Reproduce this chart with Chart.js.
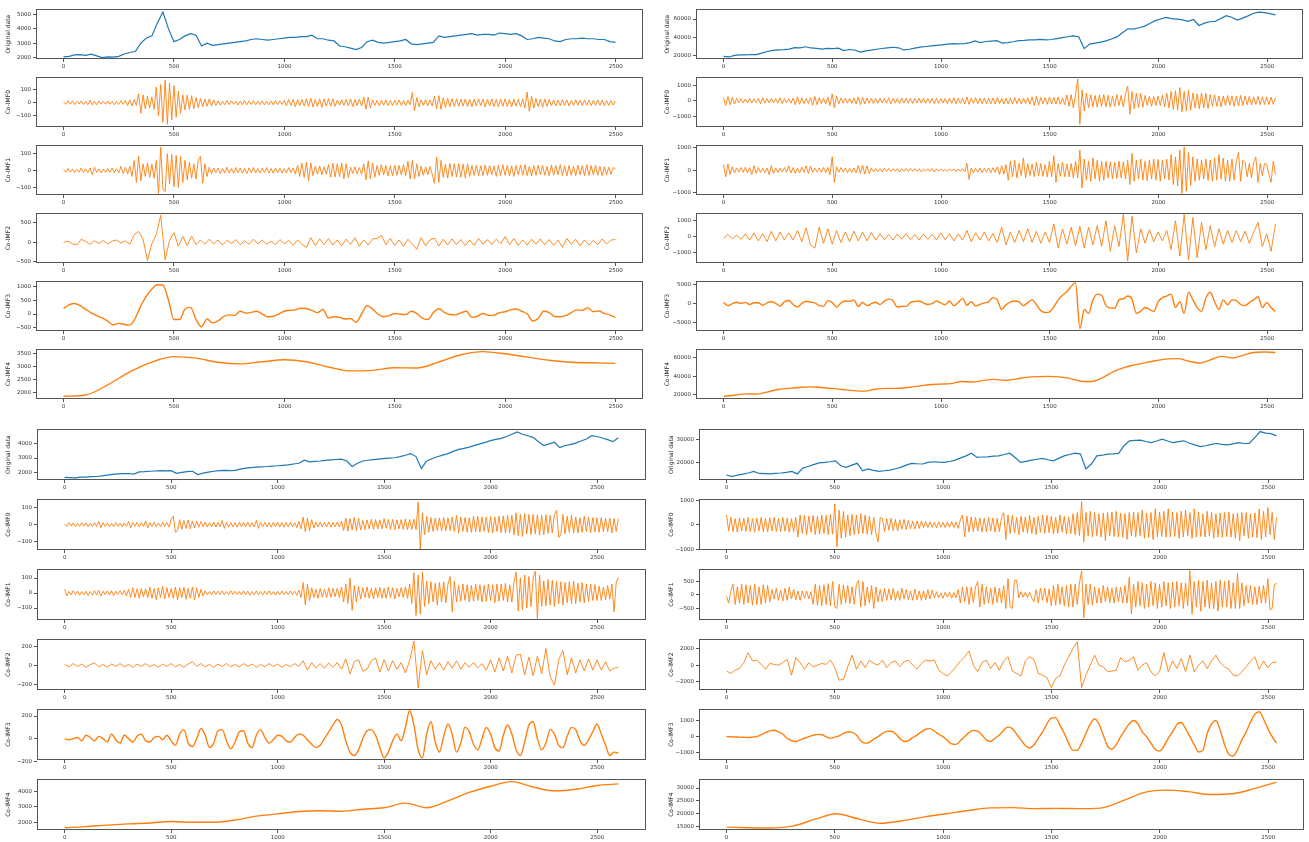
<!DOCTYPE html>
<html>
<head>
<meta charset="utf-8">
<script src="https://cdn.jsdelivr.net/npm/chart.js@4.4.0/dist/chart.umd.min.js"></script>
<style>
  html, body { margin: 0; padding: 0; background: #fff; }
  #fig { position: relative; width: 1309px; height: 842px; overflow: hidden; }
  #fig canvas { position: absolute; }
</style>
</head>
<body>
<div id="fig"></div>
<script>
const xTicks = [0, 500, 1000, 1500, 2000, 2500];
const rowLabels = ["Original data", "Co-IMF0", "Co-IMF1", "Co-IMF2", "Co-IMF3", "Co-IMF4"];

// ---- top-left block, 2500 samples ----
const aLength = 2500;
const aOriginal = [
  2050,2080,2180,2200, 2150,2230,2120,2000, 2050,2030,2080,2250, 2350,2420,3000,3350,
  3500,4400,5150,4000, 3100,3250,3500,3650, 3550,2800,3000,2850, 2900,2950,3000,3050,
  3100,3150,3250,3300, 3250,3200,3250,3300, 3350,3400,3400,3450, 3450,3550,3300,3300,
  3200,3150,2800,2750, 2650,2550,2700,3100, 3200,3050,3000,3050, 3100,3150,3250,2950,
  2900,2950,3000,3050, 3500,3400,3450,3500, 3550,3600,3650,3550, 3600,3600,3550,3700,
  3650,3600,3650,3500, 3250,3300,3400,3350, 3300,3150,3100,3250, 3300,3300,3350,3300,
  3300,3250,3250,3100, 3050
];
const aImf0 = [
  5,-12,15,-10,16,-14,12,-9,15,-13,
  10,-14,20,-16,12,-15,14,-10,13,-12,
  14,-11,12,-15,10,-13,15,-12,18,-20,
  22,-25,28,-20,70,-80,60,-45,50,-40,
  45,-50,120,-100,140,-150,175,-165,150,-130,
  130,-110,90,-80,60,-55,58,-50,55,-45,
  40,-35,32,-30,28,-26,30,-25,22,-20,
  15,-18,12,-15,18,-14,16,-12,14,-17,
  12,-15,18,-16,14,-13,16,-15,12,-14,
  15,-17,13,-15,14,-16,18,-14,15,-13,
  20,-22,25,-20,28,-30,24,-22,26,-25,
  30,-28,35,-32,25,-28,30,-35,28,-25,
  32,-25,30,-28,20,-18,22,-20,25,-22,
  30,-28,25,-22,28,-25,45,-48,42,-40,
  22,-20,18,-22,20,-18,22,-20,18,-21,
  20,-18,22,-20,18,-22,20,-15,78,-60,
  40,-30,22,-20,25,-22,20,-24,50,-45,
  55,-50,40,-35,35,-30,32,-28,30,-26,
  28,-25,30,-28,25,-30,28,-25,30,-22,
  28,-32,26,-24,30,-28,25,-30,28,-26,
  30,-28,25,-30,28,-25,26,-30,28,-40,
  82,-65,50,-40,32,-30,28,-35,30,-28,
  25,-22,22,-25,20,-22,24,-20,22,-25,
  18,-20,22,-18,20,-22,21,-19,20,-22,
  18,-20,22,-18,20,-22,18,-20,16,-18,
  15
];
const aImf1 = [
  5,-10,12,-8,10,-12,8,-10,15,-12,
  10,-12,15,-25,20,-12,10,-14,8,-10,
  12,-10,15,-12,10,-14,25,-18,20,-20,
  25,-35,60,-70,85,-60,40,-35,45,-40,
  38,-45,60,-135,140,-110,-125,100,-80,95,
  -95,90,-100,85,-70,60,-55,50,-45,40,
  -50,60,85,-75,40,-35,20,-18,15,-12,
  15,-18,12,-15,20,-14,12,-16,18,-12,
  15,-14,12,-18,15,-12,18,-15,12,-14,
  15,-12,18,-14,12,-16,15,-12,14,-15,
  12,-14,18,-12,15,-20,30,-35,45,-40,
  50,-60,45,-30,25,-22,28,-25,22,-20,
  35,-40,42,-38,40,-35,45,-48,40,-42,
  20,-18,22,-20,18,-22,40,-55,58,-50,
  45,-40,30,-28,35,-25,30,-32,28,-30,
  32,-28,30,-25,35,-30,55,-50,60,-50,
  40,-35,25,-28,22,-25,24,-22,-75,80,
  -70,60,-40,38,-45,42,-35,40,-38,42,
  -40,38,-45,40,-35,30,-28,32,-30,28,
  -30,32,-28,30,-25,28,-35,32,-30,35,
  -28,30,-32,28,-35,30,-25,32,-28,35,
  -30,25,-32,30,-28,32,-25,30,-28,25,
  -30,32,-28,30,-25,35,-30,28,-32,30,
  -28,25,-30,32,-25,28,-30,35,-28,30,
  -25,30,-28,25,-30,22,-25,20,-22,18,
  10
];
const aImf2 = [
  0,30,-40,-70,80,20,-50,40,-30,50,-40,30,60,-20,40,
  -50,200,280,80,-470,-30,200,700,-450,50,250,-100,150,-80,160,-60,
  60,-50,80,-40,60,-70,50,-30,70,-60,40,-50,80,-40,60,-50,30,-60,70,-40,50,-80,60,-50,
  -130,120,-80,90,-60,100,
  -70,60,-90,80,-50,120,-100,60,-70,90,
  100,180,-60,100,-80,60,-100,80,-40,-180,120,-90,60,110,-100,80,
  -70,90,-60,70,-90,60,-80,100,-50,70,-60,80,-40,
  150,-60,100,-80,
  60,-70,80,-50,90,-60,70,-80,60,-130,100,-50,80,-90,60,-70,50,-60,90,-40,60,70
];
const aImf3 = [
  200,330,380,300, 170,40,-60,-140, -260,-390,-340,-380, -400,-150,300,650,
  900,1060,1050,500, -200,-200,180,240, -200,-460,-180,-320, -250,-90,-30,-50,
  100,30,60,100, 0,-100,-80,0, 100,130,150,210, 200,130,50,170,
  -150,-100,-120,-180, -160,-300,0,300, 180,-10,-100,-60, 20,-10,-20,100,
  20,-150,-200,50, 190,60,-20,-30, 40,100,-120,-80, 20,-50,-40,50,
  80,150,180,100, 10,-250,-160,100, 50,-90,-100,-60, 50,150,130,220,
  80,110,20,-30, -125
];
const aImf4 = [
  1860,1910,2300,2800,3180,3390,3330,3170,3110,3190,3270,3190,2990,
  2840,2860,2960,2950,3180,3460,3580,3500,3370,3250,3170,3150,3130
];
const aTicks = [[2000,3000,4000,5000], [-100,0,100], [-100,0,100], [-500,0,500], [-500,0,500,1000], [2000,2500,3000,3500]];
const aRanges = [[1900,5340], [-185,195], [-145,150], [-533,748], [-614,1182], [1756,3671]];

// ---- top-right block, 2539 samples ----
const bLength = 2539;
const bOriginal = [
  18900,18300,20000,20500, 20700,21000,20800,22500, 24300,25500,26000,26300,
  27000,28500,28400,29500, 28200,27800,27000,27800, 27500,28000,25300,26500,
  26000,23600,25000,25800, 26800,27600,28400,29000, 28400,26000,26800,28000,
  29100,29800,30400,31000, 31500,32500,32900,32600, 32900,33800,36000,34000,
  35300,35800,36300,33500, 34000,35000,36300,36500, 37000,37200,37700,37000,
  37500,38500,39500,40500, 41500,40500,27500,32500, 33500,34600,36000,38000,
  40400,45000,49300,49000, 50400,52000,55000,58200, 60000,61800,60500,60000,
  59000,57500,59500,52900, 55500,57000,57500,60500, 63600,62000,58900,61000,
  63500,66400,67500,67100, 66000,64600
];
const bImf0 = [
  200,-300,280,-250,220,-200,150,-120,130,-140,
  120,-130,150,-140,130,-120,160,-200,200,-150,
  140,-130,150,-120,130,-140,200,-180,150,-130,
  140,-150,180,-250,250,-220,200,-180,150,-160,
  200,-280,280,-250,200,-180,160,-200,250,-300,
  450,-450,300,-200,180,-150,160,-140,150,-160,
  180,-200,250,-250,220,-200,180,-150,160,-170,
  150,-160,170,-140,160,-150,200,-180,160,-150,
  150,-170,180,-140,160,-150,170,-160,150,-140,
  160,-150,170,-160,150,-140,160,-180,170,-150,
  150,-140,160,-180,170,-150,200,-180,170,-160,
  160,-200,250,-220,180,-160,200,-180,170,-190,
  180,-200,170,-190,180,-200,220,-180,160,-200,
  170,-190,180,-200,220,-180,160,-200,180,-170,
  200,-220,250,-300,300,-280,220,-200,200,-220,
  250,-200,220,-200,250,-220,200,-250,380,-350,
  400,-450,400,1400,-1500,700,-650,500,-450,400,
  -380,350,-400,380,-350,400,-380,350,-400,300,
  -350,400,-300,350,-400,450,950,-850,600,-500,
  500,-450,480,-400,350,-300,300,-350,280,-300,
  320,-300,350,-400,500,-450,600,-550,650,-600,
  850,-700,600,-650,700,-600,500,-450,450,-500,
  500,-450,480,-500,400,-350,380,-350,300,-380,
  320,-300,350,-280,320,-350,300,-320,350,-300,
  300,-250,280,-260,250,-230,270,-250,260,-240,
  250,-230,240,-220,200
];
const bImf1 = [
  250,-300,280,-200,150,-120,100,-90,120,-100,
  130,-120,110,-200,200,-150,120,-100,90,-110,
  100,-200,200,-150,90,-110,100,-80,120,-100,
  200,-130,120,-150,100,-120,130,-100,200,-150,
  180,-100,90,-80,100,-90,120,-110,120,-200,
  600,-550,150,-100,120,-90,100,-110,90,-100,
  100,-120,200,-150,220,-180,200,-150,90,-70,
  80,-60,70,-80,90,-60,80,-70,60,-50,
  70,-80,60,-50,70,-60,80,-50,70,-60,
  60,-70,50,-40,60,-50,70,-80,60,-50,
  60,-50,40,-60,50,-40,60,-70,50,-60,
  70,-80,300,-420,100,-120,80,-90,100,-120,
  80,-90,100,-120,110,-100,150,-200,200,-180,
  250,-450,400,-300,450,-350,300,-250,550,-350,
  300,-250,280,-300,350,-250,300,-280,250,-300,
  400,-300,650,-550,300,-280,350,-300,280,-300,
  300,-350,400,-350,900,-800,500,-450,400,-500,
  550,-400,450,-500,400,-450,400,-350,380,-400,
  350,-380,400,-350,380,-400,450,-650,750,-500,
  450,-400,500,-450,400,-480,450,-400,500,-450,
  480,-500,450,-400,500,-450,700,-650,600,-700,
  900,-1050,1050,-950,800,-700,600,-500,500,-450,
  450,-400,500,-450,450,-500,550,-450,700,-400,
  550,-500,450,-500,500,-450,400,800,-500,450,
  350,-300,300,-350,350,600,-550,300,-250,300,
  250,-200,-550,400,-200
];
const bImf2 = [
  -100,150,-120,100,-150,180,-200,250,
  -250,200,-300,350,-250,300,-200,250,
  -200,400,-300,550,-500,-700,600,-400,
  500,-450,400,-350,300,-300,350,-250,
  300,-250,280,-200,200,-180,150,-200,
  180,-150,200,-180,150,-200,180,-150,
  150,-200,250,-180,200,-250,180,-200,
  400,-300,250,-200,300,-250,200,-350,
  600,-500,300,-350,400,-300,500,-350,
  350,-400,300,-350,800,-700,500,-450,
  600,-550,650,-700,600,-500,700,-600,
  1000,-900,700,-600,1400,-1500,1300,-1000,
  500,-400,450,-300,300,-250,400,-800,
  1000,-1200,1400,-1450,1200,-1300,900,-800,
  700,-600,500,-450,400,-350,400,-300,
  350,-400,300,900,-600,200,-900,800
];
const bImf3 = [
  300,-500,0,400,100,350,-200,250,
  250,-400,200,500,100,-600,500,850,
  -200,-850,100,650,400,200,-500,-700,
  800,300,-900,200,700,600,1000,-700,
  300,-500,0,400,-200,700,1200,800,
  -900,-700,-700,300,600,700,200,-200,
  0,700,200,-300,700,-500,300,1400,
  -400,500,-600,-200,200,500,1600,1000,
  -1500,-300,500,700,500,-500,300,1000,
  -300,-1800,-2300,-2200,-800,1000,2200,3200,
  4500,5500,-6500,-1500,-2500,1000,2500,2200,
  -500,-1100,-1200,1000,1300,2000,1200,-2500,
  -2000,-1000,-1500,-2000,500,1600,2000,2500,
  -1000,500,-2500,3000,1000,-1000,-2000,1500,
  3000,500,-1500,1000,-300,1000,800,-200,
  -500,300,1000,1800,-1000,300,-1000,-2000
];
const bImf4 = [
  18300,19500,21100,20800,23000,25800,27000,28000,28700,28000,27000,25800,24600,
  24000,26000,27000,27000,28000,29500,31000,31600,32200,34500,34000,35700,36800,
  35800,37000,39000,39800,40000,39500,37800,34800,34500,38500,45000,49500,52500,
  55000,57200,59000,59300,56500,54500,58000,61700,60000,62800,66000,66500,66000
];
const bTicks = [[20000,40000,60000], [-1000,0,1000], [-1000,0,1000], [-1000,0,1000], [-5000,0,5000], [20000,40000,60000]];
const bRanges = [[16070,70700], [-1675,1509], [-1120,1120], [-1626,1465], [-7120,5850], [15500,69400]];

// ---- bottom-left block, 2600 samples ----
const cLength = 2600;
const cOriginal = [
  1700,1680,1660,1720, 1720,1750,1760,1800, 1850,1900,1935,1950, 1960,1920,2065,2080,
  2110,2130,2150,2140, 2150,1970,2040,2080, 2110,1890,1980,2050, 2110,2150,2170,2160,
  2170,2250,2325,2360, 2390,2410,2430,2460, 2480,2510,2540,2600, 2650,2850,2740,2780,
  2800,2840,2870,2900, 2930,2800,2430,2650, 2800,2850,2890,2930, 2975,3000,3020,3100,
  3190,3300,3100,2300, 2800,2950,3085,3200, 3300,3450,3580,3650, 3735,3850,3950,4050,
  4170,4250,4320,4450, 4600,4750,4600,4500, 4390,4100,3845,3950, 4060,3700,3845,3900,
  4000,4150,4280,4500, 4450,4350,4235,4100, 4365
];
const cImf0 = [
  5,-10,12,-8,10,-12,8,-10,12,-9,
  10,-12,8,-10,12,-11,20,-18,12,-10,
  10,-12,8,-11,12,-10,9,-12,10,-11,
  20,-18,12,-10,14,-12,12,-10,22,-20,
  12,-10,14,-12,10,-12,14,-11,12,-15,
  30,50,-45,-35,30,-28,25,-22,28,-25,
  22,-20,20,-15,18,-12,15,-14,12,-13,
  15,-14,14,-12,25,-22,15,-14,12,-13,
  12,-15,14,-12,13,-12,15,-13,12,-14,
  25,-22,15,-12,14,-13,12,-15,14,-12,
  15,-14,12,-15,13,-12,15,-14,12,-18,
  20,-25,45,-42,40,-35,30,-20,15,-14,
  15,-12,14,-13,16,-15,13,-12,15,-14,
  20,-35,40,-38,35,-30,42,-35,38,-32,
  25,-30,28,-25,32,-28,30,-26,28,-25,
  35,-22,30,-28,32,-30,28,-25,30,-28,
  35,-30,30,-28,32,-30,135,-145,70,-60,
  50,-45,42,-40,38,-35,40,-38,42,-36,
  40,-35,45,-40,55,-50,45,-40,42,-45,
  40,-45,50,-42,48,-44,45,-40,46,-48,
  48,-50,45,-40,50,-48,52,-50,55,-48,
  55,-60,70,-65,60,-70,65,-55,60,-58,
  60,-55,58,-62,55,-60,58,-52,55,-50,
  60,85,-75,-60,60,-55,50,-45,55,-50,
  45,-50,40,-45,50,-40,45,-48,42,-44,
  40,-45,42,-40,38,-42,40,-50,35,-40,
  35
];
const cImf1 = [
  25,-20,10,-12,15,-10,12,-15,10,-12,
  12,-18,10,-14,15,-12,18,-20,12,-10,
  14,-12,15,-18,12,-10,15,-12,18,-20,
  25,-30,35,-30,28,-35,30,-25,28,-30,
  40,-35,30,-45,35,-30,45,-40,35,-30,
  30,-35,40,-45,35,-30,38,-42,30,-35,
  40,-45,35,-30,25,-20,15,-12,10,-12,
  14,-10,12,-10,14,-12,10,-12,15,-10,
  12,-10,10,-12,14,-10,12,-15,10,-12,
  14,-12,10,-14,12,-10,15,-12,10,-14,
  12,-10,14,-12,10,-12,14,-10,12,-15,
  20,-30,70,-80,60,-50,35,-30,25,-35,
  30,-28,25,-30,35,-28,30,-25,32,-30,
  40,-60,60,-70,100,-115,50,-60,45,-40,
  35,-30,40,-35,30,-40,35,-30,38,-35,
  30,-35,40,-30,35,-40,30,-25,35,-30,
  40,-35,60,-70,135,-150,120,-140,140,-90,
  80,-70,75,-60,65,-80,70,-60,75,-65,
  60,110,-125,80,-60,50,-55,60,-50,55,
  -60,50,-55,60,-50,55,-60,50,-55,60,
  -50,55,-65,60,-55,60,-50,65,-60,55,
  -60,70,140,-120,100,-110,120,-100,110,-90,
  100,145,-170,120,-90,80,-85,90,-80,85,
  -90,80,-70,75,-80,70,-65,75,-70,80,
  -70,65,-60,70,-65,60,-55,60,-50,55,
  -50,45,-50,40,-45,50,-40,60,-125,70,
  105
];
const cImf2 = [
  10,-15,20,-10,15,-20,10,25,
  -15,10,-20,15,-10,20,-15,10,
  -20,15,-10,20,-15,10,-20,15,
  -10,20,-15,10,-20,15,40,-10,
  20,-15,10,-20,15,-10,20,-15,
  10,-15,20,-10,15,-20,10,-15,
  20,-10,15,-20,10,-15,20,-10,
  50,-50,30,-25,20,-30,25,-20,
  30,-40,70,-90,40,60,-60,-40,
  50,80,-70,60,-60,50,-40,30,
  -80,50,260,-240,160,-100,50,-40,
  30,-50,40,-30,50,-40,30,-20,
  30,-25,20,-50,60,-70,80,-60,
  100,-80,110,120,-100,90,-110,100,
  -90,180,-120,-210,60,160,-100,80,
  -80,60,-60,70,-50,60,-50,40,
  -60,-30,-20
];
const cImf3 = [
  0,-10,0,10,-20,30,10,-20,
  20,0,-30,40,-10,-40,30,0,
  -30,20,40,-20,-30,10,20,-10,
  30,-20,-60,40,80,-40,-70,0,
  90,30,-80,-40,70,80,-20,-90,
  -30,60,70,-40,-80,30,80,10,
  -40,-10,30,20,-20,-30,10,40,
  30,-10,-50,-80,-60,0,60,120,
  170,120,-20,-120,-150,-100,0,70,
  80,30,-80,-170,-120,-20,40,-20,
  100,250,120,-100,-170,40,150,-30,
  -120,20,130,40,-120,-40,100,60,
  -50,-100,0,100,40,-80,-110,30,
  120,40,-100,-150,-30,120,150,0,
  -100,-40,80,40,-60,-80,20,100,
  80,-20,-60,-10,60,130,40,-60,
  -150,-120,-130
];
const cImf4 = [
  1650,1720,1820,1900,1960,2050,2000,2000,2150,2400,2550,2700,2750,2720,
  2850,2950,3250,2950,3400,3950,4350,4650,4300,4050,4150,4400,4500
];
const cTicks = [[2000,3000,4000], [-100,0,100], [-100,0,100], [-200,0,200], [-200,0,200], [2000,3000,4000]];
const cRanges = [[1523,4933], [-150,150], [-180,158], [-262,279], [-190,260], [1500,4800]];

// ---- bottom-right block, 2539 samples ----
const dLength = 2539;
const dOriginal = [
  14400,13700,14400,14800, 15300,16000,15100,15000, 14900,15100,15300,15600,
  16000,14900,17500,18200, 19000,19800,20000,20300, 20700,18500,17800,18800,
  19600,16300,17100,16500, 16000,16300,16600,17200, 17800,18800,19600,19400,
  19300,20000,20300,20100, 20000,20400,21000,22000, 22900,24100,22200,22400,
  22500,22800,22900,23500, 24100,22200,20000,20500, 21000,21400,21800,21200,
  20700,21800,22900,23500, 24100,23700,17100,19300, 22900,23200,23700,23800,
  24000,27400,29600,29800, 29900,29300,28800,29500, 30300,29500,28800,29200,
  29600,28500,27800,27000, 27400,28000,28400,28000, 27800,28200,28800,28400,
  28400,31000,33700,33000, 32800,31800
];
const dImf0 = [
  400,-250,300,-280,250,-300,280,-250,260,-270,
  300,-280,250,-300,280,-250,300,-280,260,-290,
  280,-250,300,-270,250,-280,300,-260,280,-300,
  250,-280,300,-500,400,-350,380,-400,350,-300,
  380,-400,350,-380,400,-350,380,-400,420,-380,
  850,-900,600,-550,550,-500,400,-450,420,-400,
  400,-380,450,-350,400,-380,350,-400,300,-350,
  -700,300,250,-280,250,-220,260,-240,220,-250,
  200,-180,220,-200,180,-160,150,-170,160,-150,
  150,-120,130,-110,120,-100,110,-130,120,-100,
  100,-120,110,-100,130,-110,120,-150,200,400,
  -500,350,-300,320,-280,300,-250,280,-300,260,
  -280,300,-250,280,-300,260,-280,300,500,-600,
  400,-350,380,-320,300,-400,350,-300,320,-350,
  380,-350,300,-400,350,-300,400,-350,380,-320,
  350,-380,300,-350,400,-300,350,-380,320,-360,
  450,-400,500,-450,950,-700,500,-450,550,-500,
  500,-450,450,-500,480,-650,500,-450,520,-480,
  550,-500,480,-520,450,-600,500,-450,520,-500,
  500,-450,600,-550,480,-520,500,-600,650,-500,
  520,-480,550,-500,650,-500,520,-480,500,-550,
  550,-500,600,-450,500,-550,650,-500,520,-480,
  450,-500,550,-450,500,-550,450,-500,480,-520,
  500,-480,520,-500,450,-550,480,-650,500,-450,
  500,-550,450,-500,480,-520,650,-600,550,-500,
  700,-400,500,-600,300
];
const dImf1 = [
  -50,-300,150,400,-350,300,-300,400,-350,380,
  -300,350,-380,400,-350,300,-350,380,-300,350,
  -250,200,-150,250,-200,180,-220,250,-200,300,
  -150,200,-180,150,-200,150,-120,150,-150,120,
  -350,400,-380,350,-400,380,-350,420,-400,500,
  -450,-500,400,-350,380,-300,350,-320,300,-350,
  400,550,-450,500,-400,300,-300,350,-500,300,
  -250,200,-250,250,-200,220,-180,250,-200,150,
  -200,250,-150,200,-180,150,-200,220,-180,150,
  -200,150,-180,200,-150,180,-100,120,-100,80,
  -120,100,-80,100,-120,90,-100,200,-300,300,
  -250,300,-350,300,-280,300,500,-450,400,-350,
  300,-300,250,-350,300,-280,250,-300,350,-500,
  600,-450,-500,550,550,-100,120,-80,100,-90,
  100,-120,-250,200,-300,250,-200,250,-280,220,
  -400,350,-380,400,-350,300,-400,350,-450,400,
  -450,400,-350,450,880,-850,400,-350,400,-380,
  300,-300,250,-300,350,-250,300,-280,250,-300,
  300,-250,280,-300,350,-300,650,-700,400,-450,
  500,-400,450,-500,400,-450,500,-400,450,-500,
  400,-450,500,-400,450,-500,480,-450,500,-400,
  450,-500,450,-400,900,-700,500,-450,550,-600,
  500,-450,550,-500,450,-500,500,-600,550,-450,
  500,-450,550,-500,450,-500,800,-500,450,-400,
  350,-300,350,-350,300,-350,320,-300,350,-300,
  600,-550,-500,400,420
];
const dImf2 = [
  -700,-1000,-600,-400,300,1500,500,600,
  100,-500,200,100,0,300,700,-1200,
  900,300,-500,300,-200,0,200,100,
  600,-300,-1800,-1700,-200,1200,-500,500,
  -300,600,200,0,600,-300,300,500,
  -200,400,600,0,-500,200,600,500,
  600,-600,-1000,-1300,-800,-200,500,1000,
  1700,0,-800,300,600,-400,300,-600,
  500,1000,-700,-1000,-1300,500,1000,700,
  -1000,-1200,-1500,-2700,-1600,-1300,0,1000,
  2000,2800,-2700,-1200,0,1200,0,-200,
  -800,-700,-600,900,400,600,1000,-600,
  0,300,-800,-1300,-800,1500,-800,500,
  -400,800,-800,1200,-800,0,500,-400,
  500,1200,300,-200,-500,-1200,-1300,-800,
  -200,500,1000,-500,500,-300,300,400
];
const dImf3 = [
  0,-10,-20,-30,-40,-50,-30,0,
  120,250,360,400,300,150,-100,-250,
  -300,-200,-100,0,80,140,120,0,
  -100,-30,50,200,290,280,100,-250,
  -400,-350,-150,0,200,330,340,200,
  -100,-300,-250,-50,100,300,460,500,
  350,150,0,-250,-450,-480,-250,0,
  250,390,350,100,-200,-300,-100,100,
  400,590,500,150,-200,-550,-700,-500,
  -100,300,800,1150,1180,700,200,-400,
  -850,-850,-400,200,800,1100,800,100,
  -600,-780,-500,0,400,800,1000,800,
  300,0,-400,-800,-900,-600,-100,300,
  750,880,500,0,-500,-950,-850,200,
  800,1000,400,-500,-1100,-1200,-800,-200,
  300,900,1400,1550,1100,500,0,-400
];
const dImf4 = [
  14800,14600,14500,15200,17800,20000,18000,16300,17300,18800,20000,21300,22300,
  22400,22000,22100,22000,22200,25000,28300,29200,28600,27500,27800,29800,32300
];
const dTicks = [[20000,30000], [-1000,0,1000], [-500,0,500], [-2000,0,2000], [-1000,0,1000], [15000,20000,25000,30000]];
const dRanges = [[12200,34700], [-1030,1040], [-927,951], [-2980,3100], [-1450,1700], [13700,33400]];

// panel placement for each block
const blocks = [
  { length: aLength, series: [aOriginal, aImf0, aImf1, aImf2, aImf3, aImf4], ticks: aTicks, ranges: aRanges,
    canvasX: 0, canvasW: 650, boxLeft: 36, boxRight: 643, top: 8, pitch: 68, boxH: 51, titlePad: 5 },
  { length: bLength, series: [bOriginal, bImf0, bImf1, bImf2, bImf3, bImf4], ticks: bTicks, ranges: bRanges,
    canvasX: 652, canvasW: 657, boxLeft: 696, boxRight: 1303, top: 8, pitch: 68, boxH: 51, titlePad: 12 },
  { length: cLength, series: [cOriginal, cImf0, cImf1, cImf2, cImf3, cImf4], ticks: cTicks, ranges: cRanges,
    canvasX: 0, canvasW: 650, boxLeft: 37, boxRight: 646, top: 428, pitch: 70, boxH: 52, titlePad: 5 },
  { length: dLength, series: [dOriginal, dImf0, dImf1, dImf2, dImf3, dImf4], ticks: dTicks, ranges: dRanges,
    canvasX: 652, canvasW: 657, boxLeft: 699, boxRight: 1304, top: 428, pitch: 70, boxH: 52, titlePad: 16 }
];

const blue = "#1f77b4";
const orange = "#ff7f0e";
const axisColor = "#555";
const textColor = "#333";
const padTop = 4;
const axisH = 16;
const fmt = v => (v < 0 ? "\u2212" + Math.abs(v) : String(v));

// matplotlib style box around the plot area
const framePlugin = {
  id: "frame",
  afterDraw(chart) {
    const { ctx, chartArea: a } = chart;
    ctx.save();
    ctx.strokeStyle = axisColor;
    ctx.lineWidth = 1;
    ctx.strokeRect(Math.round(a.left) + 0.5, Math.round(a.top) + 0.5,
      Math.round(a.right - a.left) - 1, Math.round(a.bottom - a.top) - 1);
    ctx.restore();
  }
};

const fig = document.getElementById("fig");

blocks.forEach(b => {
  const last = b.length - 1;
  b.series.forEach((values, row) => {
    const top = b.top + row * b.pitch;
    const canvas = document.createElement("canvas");
    canvas.width = b.canvasW;
    canvas.height = b.boxH + padTop + axisH;
    canvas.style.left = b.canvasX + "px";
    canvas.style.top = (top - padTop) + "px";
    fig.appendChild(canvas);

    const pts = values.map((v, i) => ({ x: (i * last) / (values.length - 1), y: v }));
    const smooth = row >= 4;
    const yTicks = b.ticks[row];

    new Chart(canvas, {
      type: "line",
      data: {
        datasets: [{
          data: pts,
          borderColor: row === 0 ? blue : orange,
          borderWidth: row === 0 ? 1.2 : (smooth ? 1.4 : 0.9),
          pointRadius: 0,
          fill: false,
          tension: 0,
          cubicInterpolationMode: smooth ? "monotone" : "default"
        }]
      },
      options: {
        responsive: false,
        animation: false,
        events: [],
        layout: { padding: { top: padTop, right: b.canvasX + b.canvasW - b.boxRight, left: 0, bottom: 0 } },
        plugins: { legend: { display: false }, tooltip: { enabled: false } },
        scales: {
          x: {
            type: "linear",
            min: -0.05 * last,
            max: 1.05 * last,
            afterBuildTicks: s => { s.ticks = xTicks.map(v => ({ value: v })); },
            afterFit: s => { s.height = axisH; },
            ticks: { autoSkip: false, maxRotation: 0, padding: 1, color: textColor,
              font: { family: "DejaVu Sans", size: 5.5 }, callback: v => fmt(v) },
            grid: { display: true, drawOnChartArea: false, drawTicks: true, tickLength: 3, color: axisColor },
            border: { display: false }
          },
          y: {
            type: "linear",
            min: b.ranges[row][0],
            max: b.ranges[row][1],
            afterBuildTicks: s => { s.ticks = yTicks.map(v => ({ value: v })); },
            afterFit: s => { s.width = b.boxLeft - b.canvasX; },
            ticks: { autoSkip: false, padding: 2, color: textColor,
              font: { family: "DejaVu Sans", size: 5.5 }, callback: v => fmt(v) },
            grid: { display: true, drawOnChartArea: false, drawTicks: true, tickLength: 3, color: axisColor },
            border: { display: false },
            title: { display: true, text: rowLabels[row], color: "#222", padding: { top: b.titlePad, bottom: 0 },
              font: { family: "DejaVu Sans", size: 6 } }
          }
        }
      },
      plugins: [framePlugin]
    });
  });
});
</script>
</body>
</html>
